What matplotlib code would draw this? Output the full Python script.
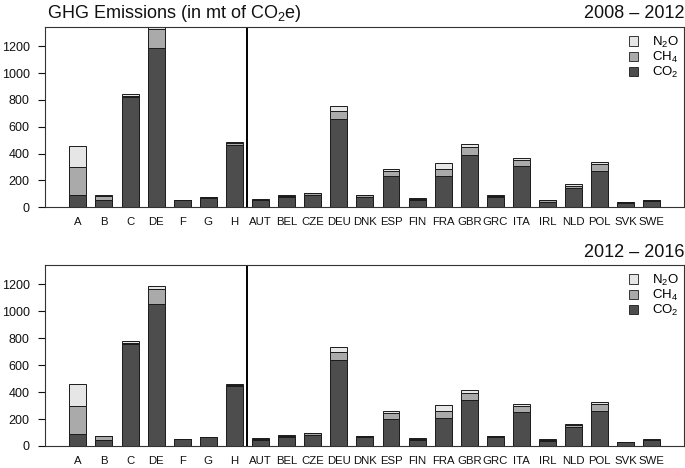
import matplotlib
matplotlib.use("Agg")
import matplotlib.pyplot as plt
import numpy as np

plt.rcParams['font.family'] = ['Liberation Sans', 'DejaVu Sans']
plt.rcParams['mathtext.fontset'] = 'custom'
plt.rcParams['mathtext.rm'] = 'Liberation Sans'
plt.rcParams['mathtext.it'] = 'Liberation Sans:italic'

categories = ['A', 'B', 'C', 'DE', 'F', 'G', 'H', 'AUT', 'BEL', 'CZE', 'DEU', 'DNK',
              'ESP', 'FIN', 'FRA', 'GBR', 'GRC', 'ITA', 'IRL', 'NLD', 'POL', 'SVK', 'SWE']

periods = ['2008 – 2012', '2012 – 2016']

co2_1 = [92, 52, 818, 1190, 52, 72, 466, 52, 75, 92, 657, 80, 231, 55, 231, 387, 78, 307, 40, 141, 272, 33, 50]
ch4_1 = [210, 33, 14, 137, 2, 3, 11, 6, 9, 12, 59, 8, 37, 6, 56, 64, 8, 45, 11, 20, 50, 3, 4]
n2o_1 = [157, 3, 12, 25, 1, 1, 6, 4, 6, 6, 38, 6, 17, 6, 45, 20, 5, 17, 5, 12, 15, 3, 3]

co2_2 = [87, 45, 755, 1056, 50, 66, 448, 45, 68, 82, 641, 64, 203, 46, 206, 340, 66, 253, 38, 141, 261, 27, 44]
ch4_2 = [209, 27, 12, 112, 2, 2, 8, 7, 9, 12, 54, 8, 40, 5, 55, 52, 6, 43, 10, 15, 47, 3, 4]
n2o_2 = [161, 3, 10, 20, 1, 1, 4, 4, 6, 6, 40, 5, 15, 5, 40, 23, 5, 17, 5, 10, 18, 2, 2]

y_ticks = [0, 200, 400, 600, 800, 1000, 1200]

gas_labels = ['CO$_{\\mathrm{2}}$', 'CH$_{\\mathrm{4}}$', 'N$_{\\mathrm{2}}$O']
gas_colors = ['#4d4d4d', '#aaaaaa', '#e6e6e6']

data = [(co2_1, ch4_1, n2o_1), (co2_2, ch4_2, n2o_2)]

fig = plt.figure(figsize=(6.85, 4.68), dpi=100)
W, H = 685, 468

def ax_rect(left, top, right, bottom):
    return [left / W, 1 - bottom / H, (right - left) / W, (bottom - top) / H]

rects = [ax_rect(45, 26.7, 684, 207.3), ax_rect(45, 264.7, 684, 446)]

x = np.arange(1, len(categories) + 1)
bw = 0.65

for k, (ax_r, (co2, ch4, n2o)) in enumerate(zip(rects, data)):
    ax = fig.add_axes(ax_r)
    bottom = np.zeros(len(categories))
    handles = []
    for vals, col, lab in zip((co2, ch4, n2o), gas_colors, gas_labels):
        vals = np.array(vals, dtype=float)
        h = ax.bar(x, vals, width=bw, bottom=bottom, color=col, edgecolor='#1a1a1a',
                   linewidth=0.7, label=lab)
        handles.append(h)
        bottom = bottom + vals
    ax.axvline(7.5, color='black', linewidth=1.4)
    ax.set_xlim(-0.26, 24.23)
    ax.set_ylim(0, 1345)
    ax.set_yticks(y_ticks)
    ax.set_xticks(x)
    ax.set_xticklabels(categories, fontsize=8.2)
    ax.tick_params(axis='x', length=0, pad=7, colors='#111111')
    ax.tick_params(axis='y', length=5, width=0.8, pad=6, labelsize=9.0, colors='#111111')
    for s in ax.spines.values():
        s.set_linewidth(0.8)
        s.set_color('#333333')
    leg = ax.legend(handles[::-1], gas_labels[::-1], loc='upper right', frameon=False,
                    fontsize=9.5, handlelength=0.7, handleheight=0.7, handletextpad=1.1,
                    labelspacing=0.02, borderaxespad=0.2, bbox_to_anchor=(1.005, 1.0))
    for p in leg.get_patches():
        p.set_linewidth(0.6)

fig.text(47 / W, 1 - 18.3 / H, 'GHG Emissions (in mt of CO$_{\\mathrm{2}}$e)', fontsize=13,
         ha='left', va='baseline', color='#111111')
fig.text(684 / W, 1 - 18.3 / H, periods[0], fontsize=13, ha='right', va='baseline', color='#111111')
fig.text(684 / W, 1 - 256.7 / H, periods[1], fontsize=13, ha='right', va='baseline', color='#111111')

fig.savefig('out.png', dpi=100)
